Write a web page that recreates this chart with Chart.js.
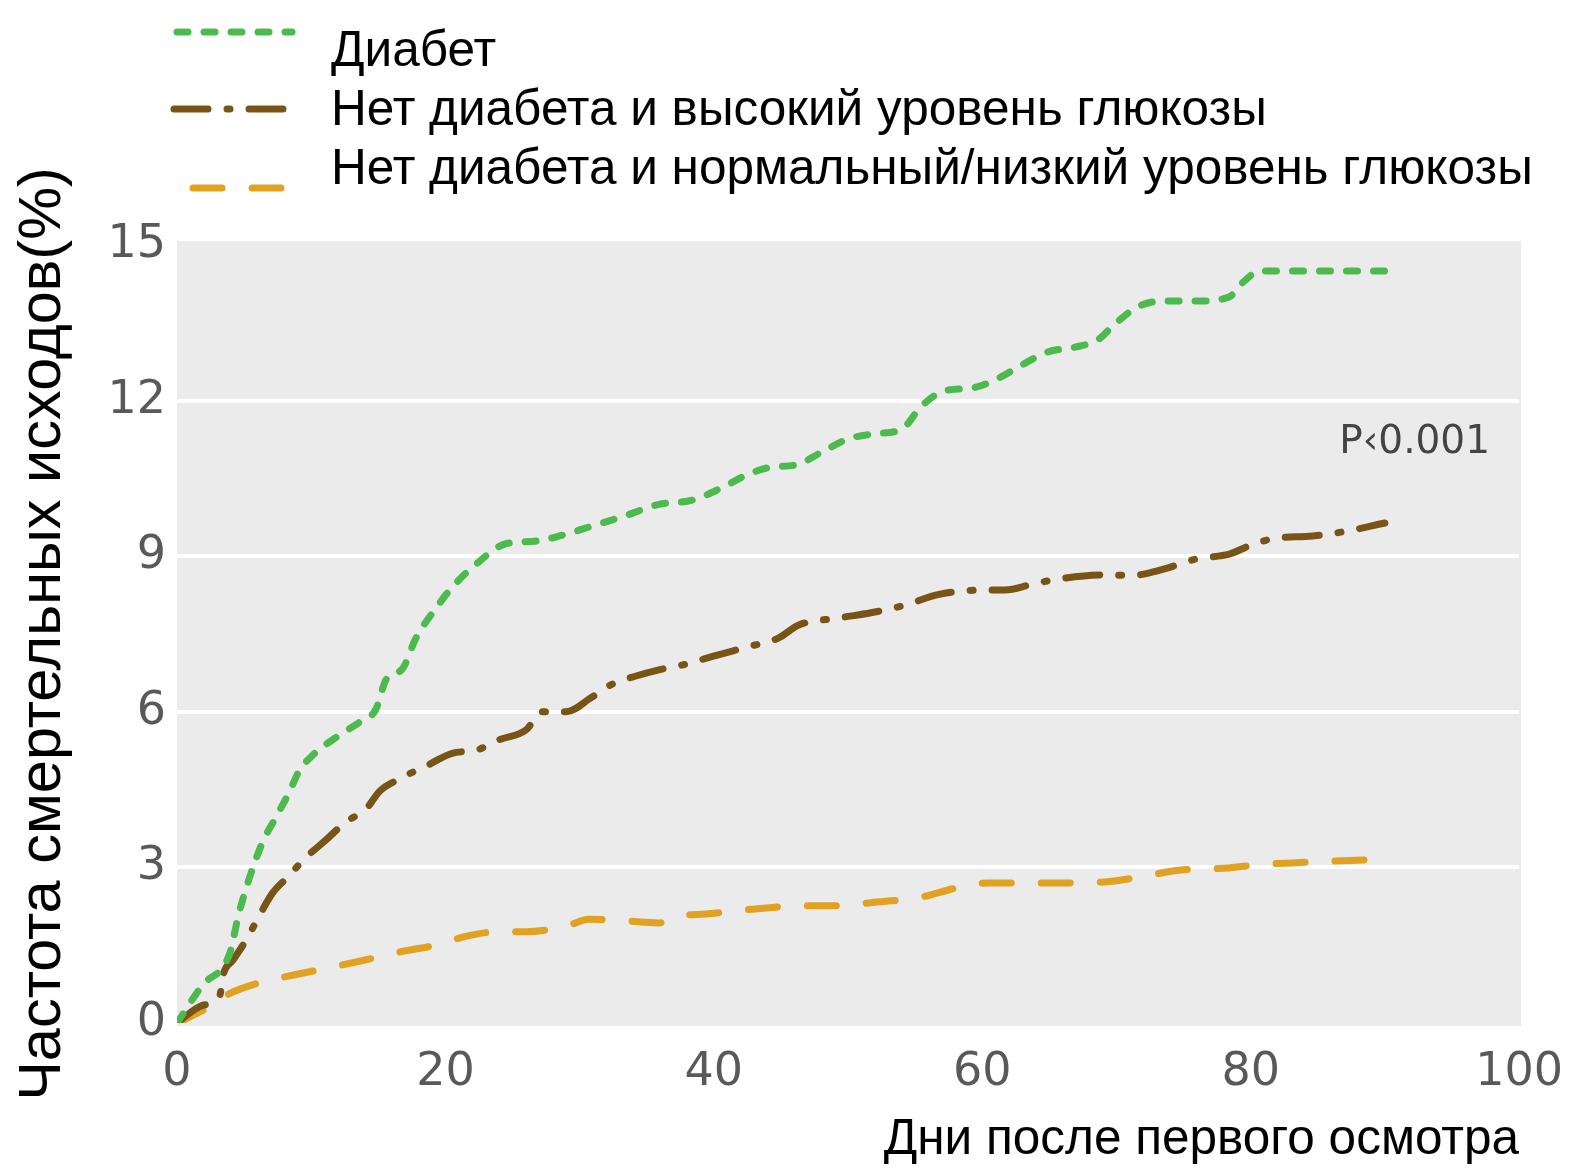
<!DOCTYPE html>
<html>
<head>
<meta charset="utf-8">
<style>
  html, body { margin: 0; padding: 0; background: #fff; }
</style>
</head>
<body>
<canvas id="mortalityChart" width="1577" height="1170"></canvas>
<script src="https://cdn.jsdelivr.net/npm/chart.js@4.4.1/dist/chart.umd.min.js"></script>
<script>
// series names
const seriesNames = [
  'Диабет',
  'Нет диабета и высокий уровень глюкозы',
  'Нет диабета и нормальный/низкий уровень глюкозы'
];

// Диабет
const diabetesDays = [0, 1.9, 3.9, 4.6, 5.4, 6.4, 7.4, 8.4, 9.1, 10.1, 12.1, 13.6, 14.8, 15.6, 16.8, 17.8, 19.3, 20.5, 22.3, 24.5, 26.7, 28.5, 30.9, 33.4, 35.9, 38.4, 40.6, 42.4, 44.3, 46.1, 48.0, 50.0, 52.0, 54.0, 55.5, 57.2, 59.2, 61.2, 62.9, 64.9, 66.9, 68.6, 69.9, 71.6, 73.5, 76.0, 78.4, 79.5, 80.7, 83.4, 90];
const diabetesRate = [0, 0.73, 1.32, 2.1, 2.8, 3.5, 3.98, 4.47, 4.86, 5.16, 5.55, 5.8, 6.04, 6.63, 6.83, 7.42, 8.0, 8.4, 8.85, 9.24, 9.29, 9.39, 9.58, 9.78, 10.0, 10.08, 10.32, 10.56, 10.72, 10.76, 11.0, 11.26, 11.36, 11.45, 11.9, 12.19, 12.24, 12.43, 12.68, 12.94, 13.03, 13.17, 13.48, 13.81, 13.92, 13.92, 14.0, 14.3, 14.5, 14.5, 14.5];

// Нет диабета, высокий уровень глюкозы
const highDays = [0, 1.9, 3.2, 3.4, 4.2, 5.2, 6.2, 7.1, 8.2, 9.6, 11.1, 12.6, 14.1, 15.1, 16.6, 18.6, 20.5, 22.3, 24.0, 26.0, 27.2, 29.0, 30.9, 32.4, 34.2, 35.9, 38.1, 39.9, 42.8, 44.8, 46.3, 49.3, 51.7, 54.3, 56.7, 60.4, 61.7, 63.6, 65.4, 69.1, 71.1, 73.5, 76.0, 78.4, 79.9, 81.7, 84.6, 87.3, 90];
const highRate = [0, 0.34, 0.54, 0.89, 1.22, 1.62, 2.1, 2.5, 2.8, 3.19, 3.53, 3.88, 4.13, 4.47, 4.71, 4.96, 5.2, 5.26, 5.46, 5.65, 6.0, 6.0, 6.28, 6.53, 6.69, 6.81, 6.93, 7.07, 7.27, 7.42, 7.67, 7.81, 7.91, 8.06, 8.26, 8.35, 8.35, 8.45, 8.55, 8.64, 8.63, 8.75, 8.95, 9.04, 9.2, 9.34, 9.39, 9.49, 9.64];

// Нет диабета, нормальный/низкий уровень глюкозы
const normalDays = [0, 1.9, 3.7, 6.2, 8.6, 11.6, 14.1, 16.6, 19.6, 21.5, 24.0, 26.0, 29.0, 30.7, 33.4, 35.9, 37.4, 39.4, 43.1, 46.8, 49.3, 51.7, 55.5, 58.0, 60.4, 65.4, 69.1, 71.6, 74.8, 78.4, 80.4, 83.4, 90];
const normalRate = [0, 0.24, 0.54, 0.78, 0.92, 1.08, 1.22, 1.37, 1.52, 1.67, 1.76, 1.76, 1.87, 2.0, 1.97, 1.93, 2.06, 2.1, 2.2, 2.26, 2.26, 2.32, 2.43, 2.6, 2.7, 2.7, 2.72, 2.81, 2.95, 2.99, 3.05, 3.09, 3.16];

// axis ticks
const xTicks = [0, 20, 40, 60, 80, 100];
const yTicks = [0, 3, 6, 9, 12, 15];

const pValueText = 'P‹0.001';

const toPoints = (days, rate) => days.map((d, i) => ({ x: d, y: rate[i] }));

const colors = ['rgb(76, 186, 76)', 'rgb(120, 84, 22)', 'rgb(224, 162, 32)'];
const dashes = [[11, 16], [34, 19, 3, 19], [29, 30]];

// grey panel behind the plot
const panelBg = {
  id: 'panelBg',
  beforeDraw(chart) {
    const { ctx, chartArea: a } = chart;
    ctx.save();
    ctx.fillStyle = '#ebebeb';
    ctx.fillRect(a.left, a.top - 4, a.right - a.left + 2, a.bottom - a.top + 7);
    ctx.restore();
  }
};

// legend at top-left and p-value note
const notes = {
  id: 'notes',
  afterDraw(chart) {
    const ctx = chart.ctx;
    const rows = [
      { y1: 32, x0: 177, ty: 52 },
      { y1: 109, x0: 174, ty: 111 },
      { y1: 188, x0: 193, ty: 170 }
    ];
    ctx.save();
    chart.data.datasets.forEach((ds, i) => {
      const r = rows[i];
      ctx.strokeStyle = ds.borderColor;
      ctx.lineWidth = 7;
      ctx.lineCap = 'round';
      ctx.setLineDash(ds.borderDash);
      ctx.beginPath();
      ctx.moveTo(r.x0, r.y1);
      ctx.lineTo(292, r.y1);
      ctx.stroke();
      ctx.setLineDash([]);
      ctx.fillStyle = '#000';
      ctx.font = '49.5px "Liberation Sans", Arial, sans-serif';
      ctx.textBaseline = 'middle';
      ctx.textAlign = 'left';
      ctx.fillText(ds.label, 331, r.ty);
    });
    ctx.fillStyle = '#444';
    ctx.font = '39px "DejaVu Sans", sans-serif';
    ctx.textAlign = 'right';
    ctx.textBaseline = 'middle';
    ctx.fillText(pValueText, 1490, 443);
    ctx.restore();
  }
};

const ctx = document.getElementById('mortalityChart').getContext('2d');
new Chart(ctx, {
  type: 'line',
  data: {
    datasets: [
      { label: seriesNames[0], data: toPoints(diabetesDays, diabetesRate) },
      { label: seriesNames[1], data: toPoints(highDays, highRate) },
      { label: seriesNames[2], data: toPoints(normalDays, normalRate) }
    ].map((ds, i) => Object.assign(ds, {
      borderColor: colors[i],
      backgroundColor: colors[i],
      borderDash: dashes[i],
      borderWidth: 7,
      borderCapStyle: 'round',
      pointRadius: 0,
      fill: false,
      cubicInterpolationMode: 'monotone'
    }))
  },
  options: {
    responsive: false,
    animation: false,
    layout: { padding: { left: 0, right: 55, top: 245, bottom: 0 } },
    plugins: {
      legend: { display: false },
      tooltip: { enabled: false }
    },
    scales: {
      x: {
        type: 'linear',
        min: 0,
        max: 100,
        afterFit(scale) { scale.height = 147; },
        afterBuildTicks(scale) { scale.ticks = xTicks.map(v => ({ value: v })); },
        grid: { display: false },
        border: { display: false },
        ticks: {
          padding: 14,
          color: '#595959',
          font: { family: '"DejaVu Sans", sans-serif', size: 46 }
        },
        title: {
          display: true,
          text: 'Дни после первого осмотра',
          align: 'end',
          color: '#000',
          padding: { top: 0, bottom: 0 },
          font: { family: '"Liberation Sans", Arial, sans-serif', size: 49.5 }
        }
      },
      y: {
        min: 0,
        max: 15,
        afterFit(scale) { scale.width = 177; },
        afterBuildTicks(scale) { scale.ticks = yTicks.map(v => ({ value: v })); },
        grid: {
          drawTicks: false,
          lineWidth: 4,
          color: c => (c.tick && (c.tick.value === 0 || c.tick.value === 15)) ? 'rgba(0,0,0,0)' : '#ffffff'
        },
        border: { display: false },
        ticks: {
          padding: 11,
          color: '#595959',
          font: { family: '"DejaVu Sans", sans-serif', size: 46 }
        },
        title: {
          display: true,
          text: 'Частота смертельных исходов(%)',
          color: '#000',
          padding: { top: 8, bottom: 0 },
          font: { family: '"Liberation Sans", Arial, sans-serif', size: 59.5 }
        }
      }
    }
  },
  plugins: [panelBg, notes]
});
</script>
</body>
</html>
